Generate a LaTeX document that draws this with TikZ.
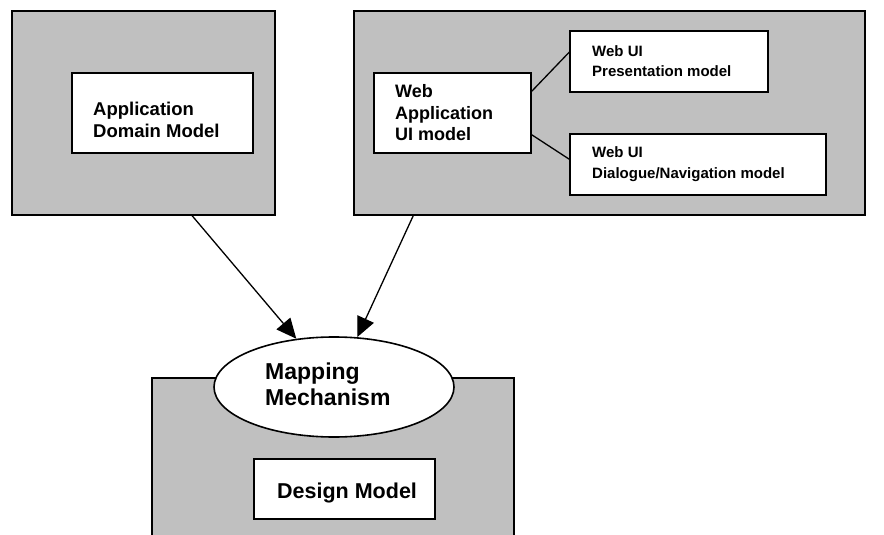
\documentclass[tikz,border=0pt]{standalone}
\usepackage{fontspec}
\setmainfont{Liberation Sans}
\usetikzlibrary{shapes.geometric,arrows.meta,calc}
\tikzset{
  graybox/.style={draw=black, line width=1.6pt, fill=graybg, rectangle, inner sep=0pt},
  whitebox/.style={draw=black, line width=1.6pt, fill=white, rectangle, inner sep=0pt},
  lbl/.style={anchor=base west, inner sep=0pt, font=\bfseries},
  conn/.style={draw=black, line width=1.3pt},
  arr/.style={conn, -{Triangle[length=20pt,width=18pt]}}
}
\definecolor{graybg}{HTML}{C0C0C0}
\begin{document}
\begin{tikzpicture}[x=1pt,y=-1pt]
\useasboundingbox (0,0) rectangle (884,535);
\begin{scope}
\clip (0,0) rectangle (884,535);
% gray containers
\node[graybox, minimum width=263pt, minimum height=204pt] (lbox) at (143.5,113) {};
\node[graybox, minimum width=511pt, minimum height=204pt] (rbox) at (609.5,113) {};
\node[graybox, minimum width=362pt, minimum height=170pt] (bbox) at (333,463) {};
% white boxes
\node[whitebox, minimum width=181pt, minimum height=80pt] (adm) at (162.5,113) {};
\node[whitebox, minimum width=157pt, minimum height=80pt] (wa) at (452.5,113) {};
\node[whitebox, minimum width=198pt, minimum height=61pt] (pres) at (669,61.5) {};
\node[whitebox, minimum width=256pt, minimum height=61pt] (dial) at (698,164.5) {};
\node[whitebox, minimum width=181pt, minimum height=60pt] (des) at (344.5,489) {};
% ellipse
\node[ellipse, draw=black, line width=1.6pt, fill=white, minimum width=240pt, minimum height=100pt, inner sep=0pt] (map) at (334,387) {};
\end{scope}
% labels
\node[lbl, font=\bfseries\fontsize{18.5}{22}\selectfont] (t1) at (93,115) {Application};
\node[lbl, font=\bfseries\fontsize{18.5}{22}\selectfont] (t2) at (93,137) {Domain Model};
\node[lbl, font=\bfseries\fontsize{18}{22}\selectfont] (t3) at (395,98) {Web};
\node[lbl, font=\bfseries\fontsize{18}{22}\selectfont] (t4) at (395,120) {Application};
\node[lbl, font=\bfseries\fontsize{18}{22}\selectfont] (t5) at (395,140) {UI model};
\node[lbl, font=\bfseries\fontsize{15}{18}\selectfont] (t6) at (592,57) {Web UI};
\node[lbl, font=\bfseries\fontsize{15}{18}\selectfont] (t7) at (592,77) {Presentation model};
\node[lbl, font=\bfseries\fontsize{15}{18}\selectfont] (t8) at (592,157) {Web UI};
\node[lbl, font=\bfseries\fontsize{15}{18}\selectfont] (t9) at (592,178) {Dialogue/Navigation model};
\node[lbl, font=\bfseries\fontsize{23}{26}\selectfont] (t10) at (265,379) {Mapping};
\node[lbl, font=\bfseries\fontsize{23}{26}\selectfont] (t11) at (265,405) {Mechanism};
\node[lbl, font=\bfseries\fontsize{21.5}{26}\selectfont] (t12) at (277,498) {Design Model};
% connectors inside right box
\draw[conn] ($(wa.north east)+(0,19)$) -- ($(pres.north west)+(0,22)$);
\draw[conn] ($(wa.south east)+(0,-19)$) -- ($(dial.north west)+(0,26)$);
% arrows to mapping
\draw[arr] ($(lbox.south west)+(181,0)$) -- (map.128);
\draw[arr] ($(rbox.south west)+(60,0)$) -- (map.65);
\end{tikzpicture}
\end{document}
